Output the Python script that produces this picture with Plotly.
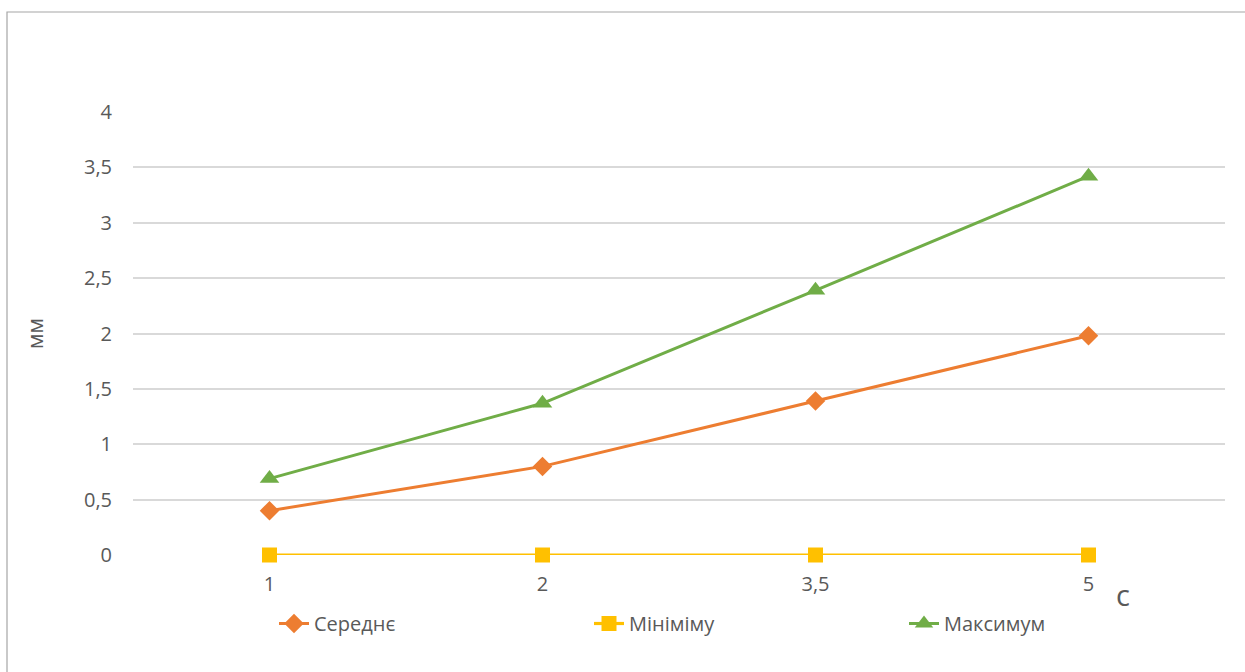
import plotly.graph_objects as go

# Час, с (категорії осі X)
categories = ["1", "2", "3,5", "5"]

# Значення, мм
avg_vals = [0.40, 0.80, 1.39, 1.98]
min_vals = [0, 0, 0, 0]
max_vals = [0.69, 1.37, 2.39, 3.42]

y_ticks = [0, 0.5, 1, 1.5, 2, 2.5, 3, 3.5, 4]
y_tick_text = ["0", "0,5", "1", "1,5", "2", "2,5", "3", "3,5", "4"]

FONT = "Open Sans, Liberation Sans, sans-serif"
TEXT = "#595959"

L, R, T, B = 133, 20, 112, 117
PW, PH = 1245 - L - R, 672 - T - B


def px_x(px):
    return (px - L) / PW


def px_y(py):
    return (672 - B - py) / PH


fig = go.Figure()
fig.add_trace(go.Scatter(
    x=categories, y=avg_vals, name="Середнє", mode="lines+markers",
    line=dict(color="#ED7D31", width=3),
    marker=dict(symbol="diamond", size=15, color="#ED7D31"),
    cliponaxis=False,
))
fig.add_trace(go.Scatter(
    x=categories, y=min_vals, name="Мініміму", mode="lines+markers",
    line=dict(color="#FFC000", width=3.2),
    marker=dict(symbol="square", size=15, color="#FFC000"),
    cliponaxis=False,
))
fig.add_trace(go.Scatter(
    x=categories, y=max_vals, name="Максимум", mode="lines+markers",
    line=dict(color="#70AD47", width=3),
    marker=dict(symbol="triangle-up", size=17, color="#70AD47"),
    cliponaxis=False,
))

fig.update_layout(
    width=1245, height=672,
    margin=dict(l=L, r=R, t=T, b=B, autoexpand=False),
    paper_bgcolor="white", plot_bgcolor="white",
    font=dict(family=FONT, size=20, color=TEXT),
    showlegend=True,
    legend=dict(
        orientation="h", x=px_x(274), y=px_y(604), xanchor="left", yanchor="top",
        entrywidth=270, entrywidthmode="pixels",
        font=dict(family=FONT, size=20, color=TEXT),
        itemwidth=30, tracegroupgap=0,
    ),
    xaxis=dict(
        type="category", range=[-0.5, 3.5],
        showgrid=False, zeroline=False, showline=False,
        ticks="", ticklabelstandoff=15,
        tickfont=dict(family=FONT, size=20, color=TEXT),
    ),
    yaxis=dict(
        range=[0, 4], tickvals=y_ticks, ticktext=y_tick_text,
        showgrid=True, gridcolor="#D9D9D9", gridwidth=1.5,
        zeroline=False, showline=False, ticks="", ticklabelstandoff=20,
        tickfont=dict(family=FONT, size=20, color=TEXT),
        title=dict(text="мм", font=dict(family=FONT, size=21, color=TEXT), standoff=34),
    ),
    shapes=[dict(
        type="rect", xref="paper", yref="paper",
        x0=px_x(7), x1=px_x(1300), y0=px_y(720), y1=px_y(12),
        line=dict(color="#A6A6A6", width=1.2), fillcolor="rgba(0,0,0,0)", layer="below",
    )],
    annotations=[dict(
        text="с", xref="paper", yref="paper",
        x=px_x(1123), y=px_y(594),
        showarrow=False, xanchor="center", yanchor="middle",
        font=dict(family=FONT, size=29, color=TEXT),
    )],
)

fig.write_html("out.html")
